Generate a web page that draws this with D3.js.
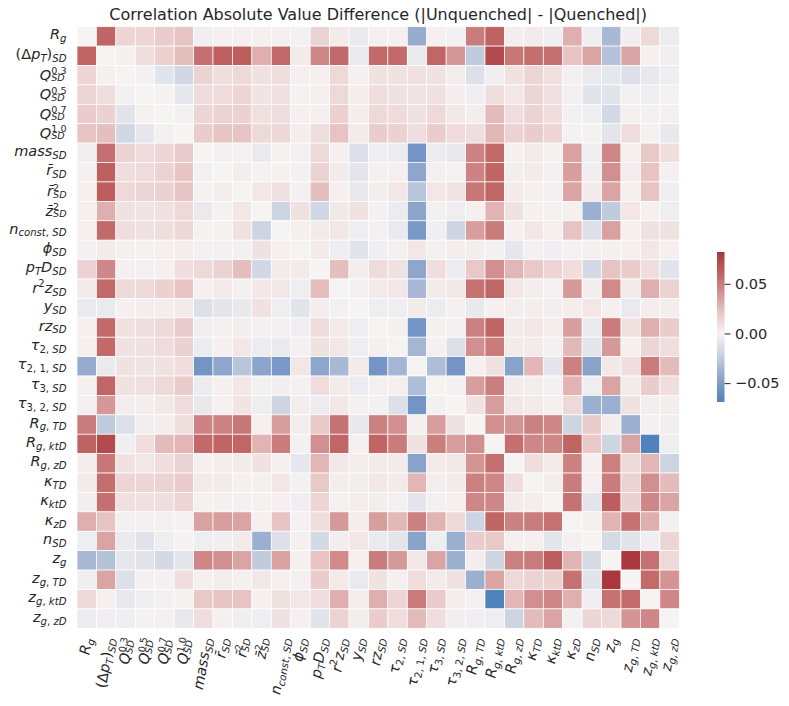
<!DOCTYPE html>
<html>
<head>
<meta charset="utf-8">
<script src="https://cdn.jsdelivr.net/npm/d3@7"></script>
<style>
body { margin: 0; background: #fff; }
text { font-family: "DejaVu Sans", sans-serif; fill: #262626; }
</style>
</head>
<body>
<div id="chart"></div>
<script>
// variable names (mathtext-ish: _{} subscript, ^{} superscript)
var varLabels = ["R_{g}", "(Δp_{T})_{SD}", "Q^{0.3}_{SD}", "Q^{0.5}_{SD}", "Q^{0.7}_{SD}", "Q^{1.0}_{SD}",
  "mass_{SD}", "r̄_{SD}", "r̄^{2}_{SD}", "z̄^{2}_{SD}", "n_{const, SD}", "ϕ_{SD}", "p_{T}D_{SD}", "r^{2}z_{SD}",
  "y_{SD}", "rz_{SD}", "τ_{2, SD}", "τ_{2, 1, SD}", "τ_{3, SD}", "τ_{3, 2, SD}", "R_{g, TD}", "R_{g, ktD}",
  "R_{g, zD}", "κ_{TD}", "κ_{ktD}", "κ_{zD}", "n_{SD}", "z_{g}", "z_{g, TD}", "z_{g, ktD}", "z_{g, zD}"];

// lower triangle of the (symmetric) difference matrix, row i holds columns 0..i-1
var corrLower = [
  [],
  [0.06],
  [0.014, 0.002],
  [0.014, 0.01, -0.002],
  [0.018, 0.016, -0.01, 0.001],
  [0.022, 0.024, -0.018, -0.008, -0.002],
  [-0.003, 0.055, 0.015, 0.011, 0.014, 0.018],
  [0.002, 0.062, 0.01, 0.011, 0.015, 0.021, -0.002],
  [0.002, 0.063, 0.012, 0.014, 0.016, 0.021, 0.001, 0.003],
  [0.002, 0.03, 0.008, 0.007, 0.009, 0.012, -0.006, 0.001, 0.006],
  [0.002, 0.058, 0.01, 0.008, 0.01, 0.013, 0.001, 0.001, 0.008, -0.02],
  [-0.002, 0.004, 0.002, 0.001, 0.002, 0.003, -0.002, -0.002, -0.002, 0.008, 0.002],
  [0.015, 0.045, 0.002, 0.002, 0.002, 0.01, 0.012, 0.015, 0.024, -0.018, 0.004, 0.004],
  [0.004, 0.058, 0.012, 0.012, 0.016, 0.022, 0.002, 0.004, 0.002, 0.005, 0.006, -0.004, 0.024],
  [-0.006, -0.006, 0.002, 0.003, 0.003, 0.004, -0.012, -0.009, -0.007, 0.008, -0.004, -0.01, 0.003, -0.002],
  [0.002, 0.058, 0.008, 0.01, 0.012, 0.018, -0.003, 0.002, 0.003, -0.002, -0.002, -0.003, 0.011, 0.004, -0.004],
  [0.002, 0.058, 0.008, 0.008, 0.011, 0.016, -0.005, 0.002, 0.006, -0.005, -0.006, -0.002, 0.008, 0.006, -0.004, 0.002],
  [-0.042, -0.006, 0.008, 0.007, 0.008, 0.01, -0.055, -0.045, -0.028, -0.046, -0.052, 0.006, -0.045, -0.035, 0.004, -0.055, -0.036],
  [0.002, 0.059, 0.008, 0.009, 0.012, 0.018, -0.005, 0.002, 0.006, -0.002, -0.003, -0.002, 0.01, 0.004, -0.005, 0.002, 0.002, -0.032],
  [-0.002, 0.039, 0.003, 0.003, 0.005, 0.011, -0.007, 0.001, 0.007, -0.004, -0.02, 0.003, -0.005, 0.005, 0.002, -0.002, -0.012, -0.055, -0.002],
  [0.05, -0.025, -0.012, -0.003, 0.003, 0.01, 0.047, 0.047, 0.052, 0.002, 0.036, 0.003, 0.02, 0.054, -0.007, 0.048, 0.042, 0.002, 0.036, 0.008],
  [0.061, 0.072, -0.003, 0.01, 0.025, 0.027, 0.058, 0.06, 0.059, 0.028, 0.05, -0.002, 0.042, 0.059, 0.002, 0.06, 0.05, 0.008, 0.049, 0.036, 0.042],
  [0.003, 0.052, 0.008, 0.006, 0.01, 0.015, 0.002, 0.003, 0.004, 0.008, 0.002, -0.008, 0.027, 0.006, 0.003, 0.004, 0.004, -0.047, 0.004, 0.006, 0.04, 0.055],
  [0.004, 0.056, 0.014, 0.014, 0.015, 0.018, 0.004, 0.004, 0.002, 0.002, 0.006, -0.002, 0.02, 0.003, 0.003, 0.006, 0.004, 0.027, 0.003, 0.004, 0.048, 0.046, 0.01],
  [-0.003, 0.055, 0.009, 0.009, 0.01, 0.014, 0.001, 0.002, -0.002, 0.001, 0.002, -0.003, 0.014, 0.001, 0.003, 0.003, -0.002, -0.009, -0.002, 0.002, 0.046, 0.046, 0.004, 0.003],
  [0.03, 0.022, -0.002, -0.002, -0.002, -0.001, 0.035, 0.036, 0.034, 0.002, 0.022, -0.001, 0.01, 0.038, 0.003, 0.036, 0.026, 0.048, 0.028, 0.012, -0.02, 0.06, 0.048, 0.05, 0.054],
  [-0.004, 0.034, -0.006, -0.01, -0.004, 0.001, -0.004, -0.003, 0.004, -0.04, -0.012, 0.002, -0.017, 0.003, 0.006, -0.006, -0.009, -0.047, -0.004, -0.04, 0.018, 0.02, 0.002, 0.002, -0.009, 0.002],
  [-0.035, -0.03, -0.008, -0.01, -0.017, -0.009, 0.046, 0.042, 0.034, -0.025, 0.035, 0.002, 0.022, 0.044, 0.002, 0.05, 0.038, 0.005, 0.034, -0.04, 0.003, -0.02, 0.048, 0.05, 0.063, 0.028, -0.016],
  [-0.003, 0.034, -0.012, -0.002, 0.002, 0.01, 0.002, 0.003, 0.002, 0.006, 0.002, 0.002, 0.018, 0.004, -0.006, 0.008, 0.002, 0.01, 0.004, 0.008, -0.04, 0.034, 0.012, 0.015, 0.016, 0.054, -0.01, 0.082],
  [0.012, 0.002, -0.007, -0.004, -0.002, 0.001, 0.02, 0.022, 0.022, 0.002, 0.008, 0.006, 0.01, 0.03, 0.003, 0.03, 0.014, 0.05, 0.018, 0.003, 0.002, -0.069, 0.027, 0.042, 0.046, 0.03, -0.003, 0.054, 0.057],
  [-0.005, -0.003, -0.004, 0.001, -0.002, -0.007, 0.01, 0.002, -0.003, -0.004, 0.008, 0.002, -0.01, 0.015, 0.003, 0.018, 0.01, 0.025, 0.01, 0.003, -0.003, -0.004, -0.02, 0.025, 0.034, -0.002, 0.014, 0.012, 0.04, 0.046]
];

var cbarTicks = [-0.05, 0, 0.05];
var vmin = -0.069, vmax = 0.082;
var titleText = "Correlation Absolute Value Difference (|Unquenched| - |Quenched|)";

var width = 789, height = 706;
var gridL = 77, gridR = 679.3, gridT = 26.7, gridB = 628.3;
var fs = 14.5;

var svg = d3.select("#chart").append("svg").attr("width", width).attr("height", height);

// vlag-like diverging map, centred on 0
var color = d3.scaleLinear()
  .domain([-0.082, -0.069, -0.055, -0.04, -0.02, 0, 0.02, 0.04, 0.06, 0.082])
  .range(["#2369bd", "#5082be", "#7394c4", "#9bafd0", "#cdd4e2", "#f6f3f3", "#e9c8c8", "#d49494", "#c06464", "#a9373b"])
  .clamp(true);

var n = varLabels.length;
var cells = [];
for (var i = 0; i < n; i++) {
  for (var j = 0; j < n; j++) {
    var v = i === j ? 0 : (j < i ? corrLower[i][j] : corrLower[j][i]);
    cells.push({ i: i, j: j, v: v });
  }
}

var x = d3.scaleBand().domain(d3.range(n)).range([gridL, gridR]);
var y = d3.scaleBand().domain(d3.range(n)).range([gridT, gridB]);

svg.append("g").selectAll("rect").data(cells).enter().append("rect")
  .attr("x", function(d) { return x(d.j); })
  .attr("y", function(d) { return y(d.i); })
  .attr("width", x.bandwidth())
  .attr("height", y.bandwidth())
  .attr("fill", function(d) { return color(d.v); })
  .attr("stroke", "#fff")
  .attr("stroke-width", 0.7);

// tiny mathtext: split into main / sub / sup pieces
function parseMath(s) {
  var segs = [], k = 0, buf = "";
  function flush() { if (buf) { segs.push({ t: buf, lev: 0 }); buf = ""; } }
  while (k < s.length) {
    var c = s[k];
    if ((c === "_" || c === "^") && s[k + 1] === "{") {
      flush();
      var e = s.indexOf("}", k);
      var prev = segs[segs.length - 1];
      var seg = { t: s.slice(k + 2, e), lev: c === "_" ? -1 : 1, end: e + 1 };
      if (prev && prev.lev === 1 && seg.lev === -1 && prev.end === k) { seg.stack = true; prev.stack = true; }
      segs.push(seg);
      k = e + 1;
    } else { buf += c; k++; }
  }
  flush();
  return segs;
}

function drawMath(text, s, size) {
  var cur = 0, supW = 0;
  parseMath(s).forEach(function(seg) {
    var sz = seg.lev === 0 ? size : size * (seg.stack ? 0.66 : 0.7);
    var off = seg.lev === 0 ? 0 : (seg.lev < 0 ? size * 0.2 : -size * 0.4);
    if (seg.stack) off = seg.lev < 0 ? size * 0.1 : -size * 0.38;
    var runs = [], r = null;
    Array.from(seg.t).forEach(function(ch) {
      var it = /[A-Za-zα-ωϕ\u0304]/.test(ch);
      if (!r || r.it !== it) { r = { t: "", it: it }; runs.push(r); }
      r.t += ch;
    });
    var w = 0;
    runs.forEach(function(run, idx) {
      var ts = text.append("tspan")
        .attr("font-size", sz)
        .attr("font-style", run.it ? "italic" : "normal")
        .attr("dy", off - cur)
        .text(run.t);
      if (idx === 0 && seg.stack && seg.lev < 0) ts.attr("dx", -supW);
      cur = off;
      w += ts.node().getComputedTextLength();
    });
    if (seg.lev === 1) supW = w;
  });
}

// y tick labels
varLabels.forEach(function(lab, i) {
  var g = svg.append("g").attr("transform", "translate(66.5," + (y(i) + y.bandwidth() / 2) + ")");
  var t = g.append("text").attr("text-anchor", "end").attr("font-size", fs);
  drawMath(t, lab, fs);
  var bb = t.node().getBBox();
  t.attr("y", -(bb.y + bb.height / 2) - 1);
});

// x tick labels, rotated
varLabels.forEach(function(lab, j) {
  var outer = svg.append("g").attr("transform", "translate(" + (x(j) + x.bandwidth() / 2) + "," + (gridB + 8) + ")");
  var mid = outer.append("g");
  var rot = mid.append("g").attr("transform", "rotate(-80)");
  var t = rot.append("text").attr("text-anchor", "end").attr("font-size", fs);
  drawMath(t, lab, fs);
  var bb = outer.node().getBBox();
  mid.attr("transform", "translate(" + (-(bb.x + bb.width / 2)) + "," + (-bb.y) + ")");
});

// title
svg.append("text")
  .attr("x", (gridL + gridR) / 2)
  .attr("y", 20)
  .attr("text-anchor", "middle")
  .attr("font-size", 16)
  .text(titleText);

// colour bar
var cbX = 717, cbW = 7.5, cbTop = 252, cbBot = 402;
var grad = svg.append("defs").append("linearGradient").attr("id", "cbgrad")
  .attr("x1", 0).attr("y1", 1).attr("x2", 0).attr("y2", 0);
d3.range(0, 1.0001, 0.02).forEach(function(t) {
  grad.append("stop").attr("offset", t).attr("stop-color", color(vmin + t * (vmax - vmin)));
});
svg.append("rect").attr("x", cbX).attr("y", cbTop).attr("width", cbW).attr("height", cbBot - cbTop)
  .attr("fill", "url(#cbgrad)");

var cb = d3.scaleLinear().domain([vmin, vmax]).range([cbBot, cbTop]);
var cbAxis = svg.append("g")
  .attr("transform", "translate(" + (cbX + cbW) + ",0)")
  .attr("color", "#262626")
  .call(d3.axisRight(cb).tickValues(cbarTicks).tickSize(6).tickPadding(4.5).tickFormat(d3.format(".2f")));
cbAxis.select(".domain").remove();
cbAxis.selectAll("text").attr("font-size", fs).attr("font-family", "DejaVu Sans");
</script>
</body>
</html>
